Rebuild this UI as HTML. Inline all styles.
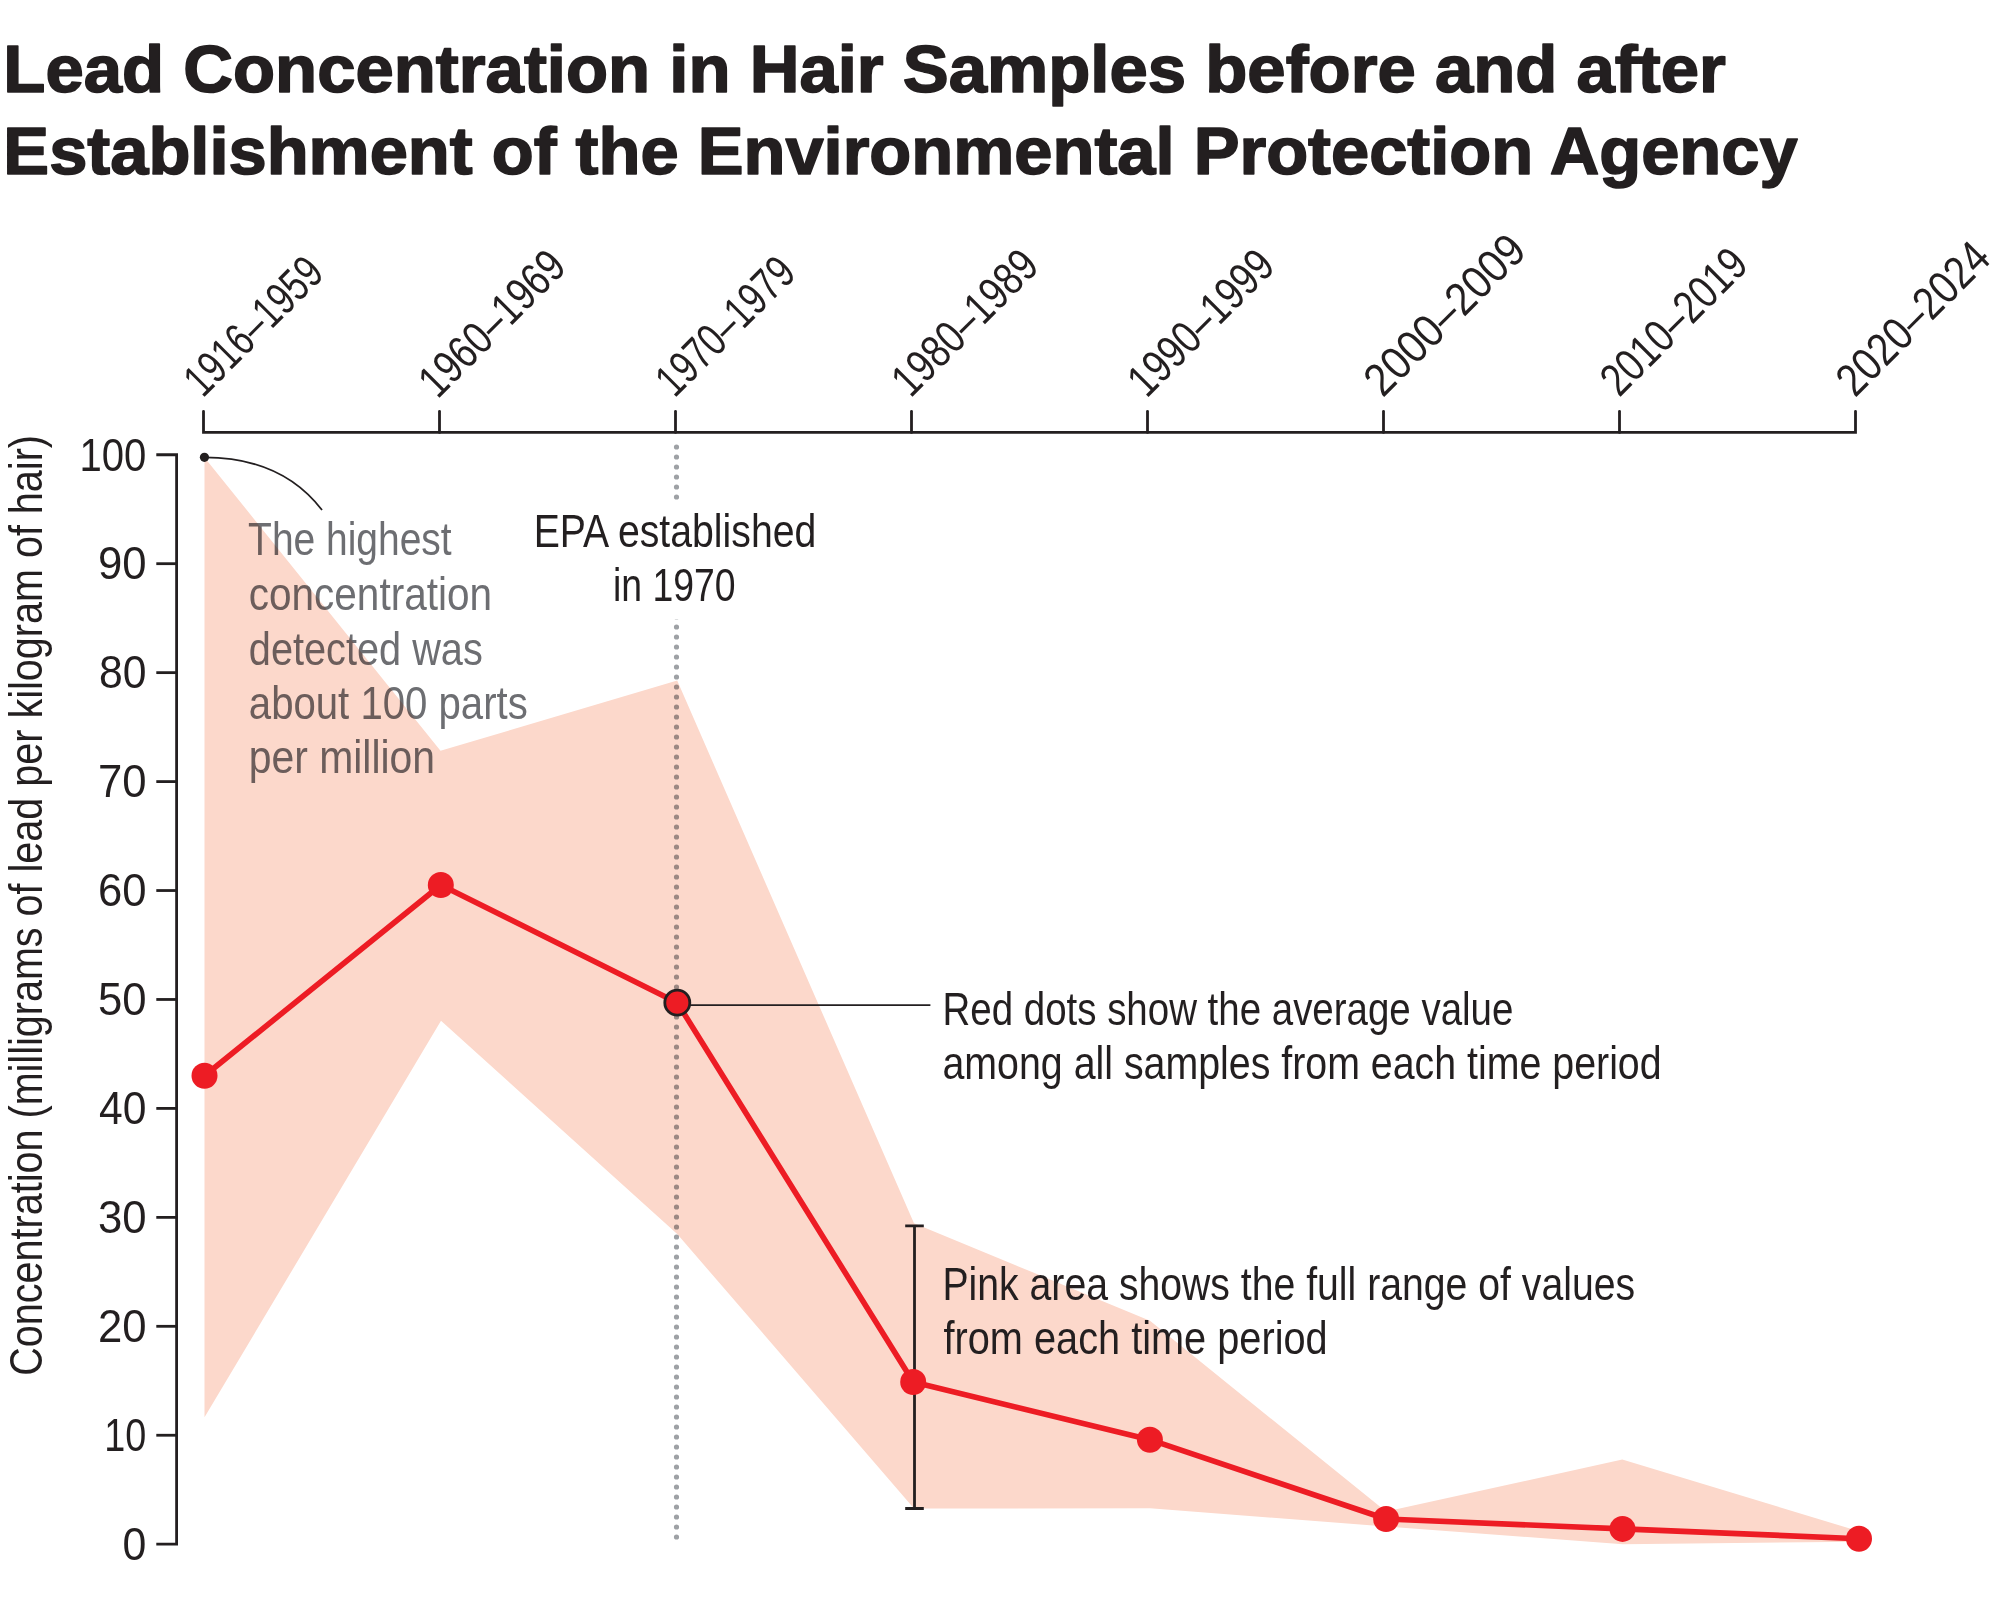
<!DOCTYPE html>
<html><head><meta charset="utf-8">
<style>
html,body{margin:0;padding:0;background:#fff;}
body{width:2000px;height:1600px;overflow:hidden;}
svg{display:block;}
text{font-family:"Liberation Sans", sans-serif;}
.c{font-size:46.2px;fill:#231F20;}
.g{font-size:46.2px;fill:#6D6E72;mix-blend-mode:multiply;}
.t{font-size:67.5px;font-weight:bold;fill:#231F20;stroke:#231F20;stroke-width:1.6px;stroke-linejoin:round;}
</style></head><body>
<svg width="2000" height="1600" viewBox="0 0 2000 1600">
<rect x="0" y="0" width="2000" height="1600" fill="#fff"/>
<text class="t" transform="translate(3.33,92.10) scale(1.0208,1)">Lead Concentration in Hair Samples before and after</text>
<text class="t" transform="translate(3.35,174.20) scale(1.0173,1)">Establishment of the Environmental Protection Agency</text>
<polygon points="204.5,457.4 440.5,750.8 677.2,680.6 914.0,1223.2 1150.0,1320.8 1386.0,1511.5 1622.3,1459.6 1859.0,1531.3 1859.0,1541.8 1622.8,1544.2 1386.0,1526.5 1150.0,1508.3 914.0,1508.5 677.2,1234.0 441.0,1020.8 204.5,1417.2" fill="#FCD8CB"/>
<line x1="676.5" y1="447" x2="676.5" y2="1538" stroke="#9EA1A5" stroke-width="5.2" stroke-linecap="round" stroke-dasharray="0 10" style="mix-blend-mode:multiply"/>
<rect x="600" y="500" width="150" height="119.3" fill="#fff"/>
<path d="M156.3,454.75 H176.6 V1544.2 H156.3" fill="none" stroke="#231F20" stroke-width="2.8"/>
<line x1="156.3" y1="563.69" x2="176.6" y2="563.69" stroke="#231F20" stroke-width="2.8"/>
<line x1="156.3" y1="672.64" x2="176.6" y2="672.64" stroke="#231F20" stroke-width="2.8"/>
<line x1="156.3" y1="781.59" x2="176.6" y2="781.59" stroke="#231F20" stroke-width="2.8"/>
<line x1="156.3" y1="890.53" x2="176.6" y2="890.53" stroke="#231F20" stroke-width="2.8"/>
<line x1="156.3" y1="999.47" x2="176.6" y2="999.47" stroke="#231F20" stroke-width="2.8"/>
<line x1="156.3" y1="1108.42" x2="176.6" y2="1108.42" stroke="#231F20" stroke-width="2.8"/>
<line x1="156.3" y1="1217.37" x2="176.6" y2="1217.37" stroke="#231F20" stroke-width="2.8"/>
<line x1="156.3" y1="1326.31" x2="176.6" y2="1326.31" stroke="#231F20" stroke-width="2.8"/>
<line x1="156.3" y1="1435.25" x2="176.6" y2="1435.25" stroke="#231F20" stroke-width="2.8"/>
<path d="M203.5,411.3 V432.4 H1855.5 V411.3" fill="none" stroke="#231F20" stroke-width="2.8" stroke-linecap="round"/>
<line x1="439.5" y1="411.3" x2="439.5" y2="432.4" stroke="#231F20" stroke-width="2.8" stroke-linecap="round"/>
<line x1="675.5" y1="411.3" x2="675.5" y2="432.4" stroke="#231F20" stroke-width="2.8" stroke-linecap="round"/>
<line x1="911.5" y1="411.3" x2="911.5" y2="432.4" stroke="#231F20" stroke-width="2.8" stroke-linecap="round"/>
<line x1="1147.5" y1="411.3" x2="1147.5" y2="432.4" stroke="#231F20" stroke-width="2.8" stroke-linecap="round"/>
<line x1="1383.5" y1="411.3" x2="1383.5" y2="432.4" stroke="#231F20" stroke-width="2.8" stroke-linecap="round"/>
<line x1="1619.5" y1="411.3" x2="1619.5" y2="432.4" stroke="#231F20" stroke-width="2.8" stroke-linecap="round"/>
<text class="c" text-anchor="end" transform="translate(146.34,470.50) scale(0.8682,1)">100</text>
<text class="c" text-anchor="end" transform="translate(146.46,579.44) scale(0.9454,1)">90</text>
<text class="c" text-anchor="end" transform="translate(146.43,688.39) scale(0.9244,1)">80</text>
<text class="c" text-anchor="end" transform="translate(146.46,797.34) scale(0.9454,1)">70</text>
<text class="c" text-anchor="end" transform="translate(146.46,906.28) scale(0.9454,1)">60</text>
<text class="c" text-anchor="end" transform="translate(146.46,1015.22) scale(0.9454,1)">50</text>
<text class="c" text-anchor="end" transform="translate(146.43,1124.17) scale(0.9223,1)">40</text>
<text class="c" text-anchor="end" transform="translate(146.46,1233.12) scale(0.9454,1)">30</text>
<text class="c" text-anchor="end" transform="translate(146.46,1342.06) scale(0.9454,1)">20</text>
<text class="c" text-anchor="end" transform="translate(146.27,1451.00) scale(0.8185,1)">10</text>
<text class="c" text-anchor="end" transform="translate(146.44,1559.95) scale(0.9284,1)">0</text>
<text class="c" transform="translate(42.00,1375.74) rotate(-90) scale(0.8561,1)">Concentration (milligrams of lead per kilogram of hair)</text>
<text class="c" transform="translate(202.67,398.64) rotate(-45) scale(0.7546,1)">1916–1959</text>
<text class="c" transform="translate(437.55,399.76) rotate(-45) scale(0.7999,1)">1960–1969</text>
<text class="c" transform="translate(674.52,398.79) rotate(-45) scale(0.7551,1)">1970–1979</text>
<text class="c" transform="translate(910.57,398.74) rotate(-45) scale(0.7977,1)">1980–1989</text>
<text class="c" transform="translate(1146.39,398.92) rotate(-45) scale(0.7990,1)">1990–1999</text>
<text class="c" transform="translate(1382.87,398.43) rotate(-45) scale(0.8895,1)">2000–2009</text>
<text class="c" transform="translate(1619.23,398.08) rotate(-45) scale(0.8025,1)">2010–2019</text>
<text class="c" transform="translate(1854.91,398.40) rotate(-45) scale(0.8443,1)">2020–2024</text>
<path d="M905.2,1225.8 H923.8 M914.5,1225.8 V1508.5 M905.2,1508.5 H923.8" fill="none" stroke="#231F20" stroke-width="2.8"/>
<polyline points="204.5,1075.8 440.8,885.0 677.3,1002.7 913.2,1382.0 1149.9,1439.7 1386.1,1519.0 1622.5,1528.9 1859.0,1538.7" fill="none" stroke="#ED1C24" stroke-width="5.6" stroke-linejoin="round"/>
<circle cx="204.5" cy="1075.8" r="13" fill="#ED1C24"/>
<circle cx="440.8" cy="885.0" r="13" fill="#ED1C24"/>
<circle cx="913.2" cy="1382.0" r="13" fill="#ED1C24"/>
<circle cx="1149.9" cy="1439.7" r="13" fill="#ED1C24"/>
<circle cx="1386.1" cy="1519.0" r="13" fill="#ED1C24"/>
<circle cx="1622.5" cy="1528.9" r="13" fill="#ED1C24"/>
<circle cx="1859.0" cy="1538.7" r="13" fill="#ED1C24"/>
<line x1="690" y1="1005.2" x2="930.4" y2="1005.2" stroke="#231F20" stroke-width="1.8"/>
<circle cx="677.3" cy="1002.7" r="12.5" fill="#ED1C24" stroke="#231F20" stroke-width="2.8"/>
<circle cx="204.45" cy="457.36" r="4.6" fill="#231F20"/>
<path d="M204.5,457.4 Q281.5,457.4 322,510" fill="none" stroke="#231F20" stroke-width="1.8"/>
<text class="g" transform="translate(248.09,554.80) scale(0.8434,1)">The highest</text>
<text class="g" transform="translate(248.79,609.80) scale(0.8769,1)">concentration</text>
<text class="g" transform="translate(248.84,664.50) scale(0.8595,1)">detected was</text>
<text class="g" transform="translate(248.81,719.10) scale(0.8692,1)">about 100 parts</text>
<text class="g" transform="translate(248.76,773.40) scale(0.8852,1)">per million</text>
<text class="c" text-anchor="middle" transform="translate(674.99,546.60) scale(0.8492,1)">EPA established</text>
<text class="c" text-anchor="middle" transform="translate(674.20,601.40) scale(0.8086,1)">in 1970</text>
<text class="c" transform="translate(942.53,1024.50) scale(0.8326,1)">Red dots show the average value</text>
<text class="c" transform="translate(942.47,1079.00) scale(0.8516,1)">among all samples from each time period</text>
<text class="c" transform="translate(942.47,1299.50) scale(0.8483,1)">Pink area shows the full range of values</text>
<text class="c" transform="translate(943.47,1354.20) scale(0.8601,1)">from each time period</text>
</svg></body></html>
